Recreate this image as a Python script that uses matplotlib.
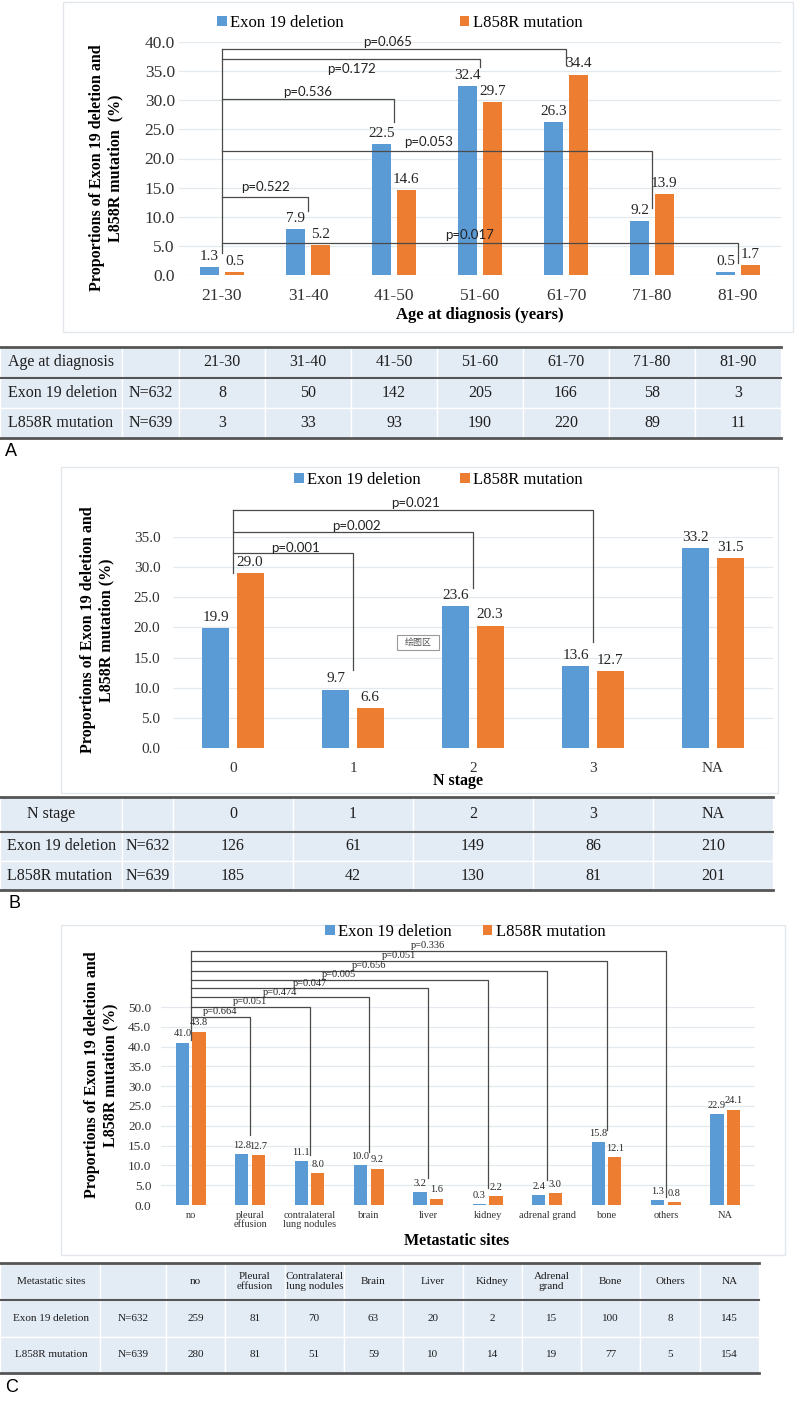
import numpy as np
import matplotlib.pyplot as plt
from matplotlib.patches import Rectangle

W, H = 800, 1403
BLUE = "#5b9bd5"
ORANGE = "#ed7d31"
LINE = "#4a4a4a"
GRID = "#e4e9ef"
CELL = "#e3ebf5"
SERIF = "Liberation Serif"

# ---- panel A: age at diagnosis ----
age_groups = ["21-30", "31-40", "41-50", "51-60", "61-70", "71-80", "81-90"]
age_exon19 = [1.3, 7.9, 22.5, 32.4, 26.3, 9.2, 0.5]
age_l858r = [0.5, 5.2, 14.6, 29.7, 34.4, 13.9, 1.7]
age_n_exon19 = [8, 50, 142, 205, 166, 58, 3]
age_n_l858r = [3, 33, 93, 190, 220, 89, 11]
age_pvals = ["0.522", "0.536", "0.172", "0.065", "0.053", "0.017"]

# ---- panel B: N stage ----
n_stages = ["0", "1", "2", "3", "NA"]
n_exon19 = [19.9, 9.7, 23.6, 13.6, 33.2]
n_l858r = [29.0, 6.6, 20.3, 12.7, 31.5]
n_count_exon19 = [126, 61, 149, 86, 210]
n_count_l858r = [185, 42, 130, 81, 201]
n_pvals = ["0.001", "0.002", "0.021"]

# ---- panel C: metastatic sites ----
sites = ["no", "pleural\neffusion", "contralateral\nlung nodules", "brain", "liver",
         "kidney", "adrenal grand", "bone", "others", "NA"]
site_headers = ["no", "Pleural\neffusion", "Contralateral\nlung nodules", "Brain", "Liver",
                "Kidney", "Adrenal\ngrand", "Bone", "Others", "NA"]
site_exon19 = [41.0, 12.8, 11.1, 10.0, 3.2, 0.3, 2.4, 15.8, 1.3, 22.9]
site_l858r = [43.8, 12.7, 8.0, 9.2, 1.6, 2.2, 3.0, 12.1, 0.8, 24.1]
site_n_exon19 = [259, 81, 70, 63, 20, 2, 15, 100, 8, 145]
site_n_l858r = [280, 81, 51, 59, 10, 14, 19, 77, 5, 154]
site_pvals = ["0.664", "0.051", "0.474", "0.047", "0.005", "0.656", "0.051", "0.336"]

# bracket layout: (target group, line height, drop end, label x, label y)
brackets_a = [(1, 13.4, 11.0, 0.51, 15.1), (2, 30.2, 26.3, 1.0, 31.4),
              (3, 37.1, 35.7, 1.51, 35.4), (4, 38.75, 36.0, 1.93, 40.0),
              (5, 21.3, 11.5, 2.4, 22.9), (6, 5.5, 2.0, 2.88, 6.9)]
brackets_b = [(1, 32.3, 12.9, 0.52, 33.2), (2, 35.8, 26.5, 1.03, 36.8),
              (3, 39.5, 17.6, 1.52, 40.7)]
c_lines = [47.6, 50.0, 52.4, 54.7, 56.8, 59.2, 61.7, 64.2]
c_drops = [17.7, 12.6, 13.4, 6.8, 4.3, 6.3, 19.0, 2.0]
brackets_c = [(k + 1, c_lines[k], c_drops[k], 0.5 * (k + 1), c_lines[k] + 1.3) for k in range(8)]

fig = plt.figure(figsize=(W / 100, H / 100), dpi=100)


def rect(x0, y0, x1, y1):
    return [x0 / W, 1 - y1 / H, (x1 - x0) / W, (y1 - y0) / H]


over = fig.add_axes([0, 0, 1, 1])
over.set_xlim(0, W)
over.set_ylim(H, 0)
over.axis("off")

# light frames round the charts
for x0, y0, x1, y1 in [(63, 2, 793, 332), (61, 467, 778, 793), (61, 925, 785, 1255)]:
    over.add_patch(Rectangle((x0, y0), x1 - x0, y1 - y0, fill=False, ec="#e3e7eb", lw=1))


def bar_panel(ax, cats, e19, l858, ymax, step, tick_fs, val_fs, xpad, ypad, width, off):
    x = np.arange(len(cats))
    ax.bar(x - off, e19, width, color=BLUE, label="Exon 19 deletion")
    ax.bar(x + off, l858, width, color=ORANGE, label="L858R mutation")
    for xs, vals in [(x - off, e19), (x + off, l858)]:
        for xi, v in zip(xs, vals):
            ax.annotate(f"{v:.1f}", (xi, v), xytext=(0, 3), textcoords="offset points",
                        ha="center", va="bottom", fontsize=val_fs, family=SERIF,
                        color="#262626", annotation_clip=False)
    ax.set_xlim(-0.5, len(cats) - 0.5)
    ax.set_ylim(0, ymax)
    ticks = np.arange(0, ymax + 0.01, step)
    ax.set_yticks(ticks)
    ax.set_yticklabels([f"{t:.1f}" for t in ticks], family=SERIF, fontsize=tick_fs, color="#333333")
    ax.set_xticks(x)
    ax.set_xticklabels(cats, family=SERIF, fontsize=tick_fs, color="#333333")
    for s in ax.spines.values():
        s.set_visible(False)
    ax.tick_params(length=0)
    ax.tick_params(axis="x", pad=xpad)
    ax.tick_params(axis="y", pad=ypad)
    ax.grid(axis="y", color=GRID, lw=0.9)
    ax.set_axisbelow(True)
    ax.set_facecolor("none")


def draw_brackets(ax, specs, pvals, left_end, fs, family):
    top = max(s[1] for s in specs)
    ax.plot([0, 0], [left_end, top], color=LINE, lw=0.9, clip_on=False)
    for (t, yl, yd, lx, ly), p in zip(specs, pvals):
        ax.plot([0, t, t], [yl, yl, yd], color=LINE, lw=0.9, clip_on=False)
        ax.text(lx, ly, "p=" + p, ha="center", va="center", fontsize=fs,
                family=family, color="#222222", clip_on=False)


def legend(ax, x_px, y_px, fs, colsp):
    ax.legend(loc="center left", bbox_to_anchor=(x_px / W, 1 - y_px / H),
              bbox_transform=fig.transFigure, ncol=2, frameon=False, borderpad=0,
              handlelength=0.55, handleheight=0.55, handletextpad=0.2,
              columnspacing=colsp, prop={"family": SERIF, "size": fs})


def draw_table(top, mid, bottom, bounds, header, rows, fs, head_x, head_ha, row_x, row_ha):
    rows_y = np.linspace(mid, bottom, len(rows) + 1)
    bands = [(top, mid)] + [(rows_y[i], rows_y[i + 1]) for i in range(len(rows))]
    for y0, y1 in bands:
        for i in range(len(bounds) - 1):
            over.add_patch(Rectangle((bounds[i], y0), bounds[i + 1] - bounds[i], y1 - y0,
                                     fc=CELL, ec="white", lw=1.0))
    right = bounds[-1]
    over.plot([0, right], [top, top], color="#555555", lw=2.0)
    over.plot([0, right], [mid, mid], color="#555555", lw=1.5)
    over.plot([0, right], [bottom, bottom], color="#555555", lw=2.0)
    centers = [(bounds[i] + bounds[i + 1]) / 2 for i in range(len(bounds) - 1)]
    for r, ((y0, y1), cells) in enumerate(zip(bands, [header] + rows)):
        yc = (y0 + y1) / 2
        for i, txt in enumerate(cells):
            if i == 0:
                x, ha = (head_x, head_ha) if r == 0 else (row_x, row_ha)
            else:
                x, ha = centers[i], "center"
            over.text(x, yc, txt, ha=ha, va="center", fontsize=fs,
                      family=SERIF, color="#1e1e1e", linespacing=1.1)


# ================= Panel A =================
axA = fig.add_axes(rect(179, 42, 781, 275))
bar_panel(axA, age_groups, age_exon19, age_l858r, 40, 5, 12.5, 11, 9, 3, 0.225, 0.145)
draw_brackets(axA, brackets_a, age_pvals, 3.7, 9.5, "Lato")
legend(axA, 209, 23, 12, 7.0)
fig.text(106 / W, 1 - 168 / H, "Proportions of Exon 19 deletion and\nL858R mutation  (%)",
         rotation=90, ha="center", va="center", fontsize=11.5, fontweight="bold",
         family=SERIF, linespacing=1.15)
fig.text(480 / W, 1 - 315 / H, "Age at diagnosis (years)", ha="center", va="center",
         fontsize=12, fontweight="bold", family=SERIF)

boundsA = [0, 122, 179] + [179 + 86.0 * (i + 1) for i in range(len(age_groups))]
draw_table(347, 378, 438, boundsA, ["Age at diagnosis", ""] + age_groups,
           [["Exon 19 deletion", "N=632"] + [str(v) for v in age_n_exon19],
            ["L858R mutation", "N=639"] + [str(v) for v in age_n_l858r]],
           11.5, 8, "left", 8, "left")
over.text(5, 452, "A", fontsize=13, family="Liberation Sans", va="center", ha="left")

# ================= Panel B =================
axB = fig.add_axes(rect(173, 537, 773, 748))
bar_panel(axB, n_stages, n_exon19, n_l858r, 35, 5, 11, 11, 10, 9, 0.225, 0.142)
draw_brackets(axB, brackets_b, n_pvals, 29.0, 9.5, "Lato")
legend(axB, 286, 480, 12, 2.4)
fig.text(97 / W, 1 - 630 / H, "Proportions of Exon 19 deletion and\nL858R mutation (%)",
         rotation=90, ha="center", va="center", fontsize=11.5, fontweight="bold",
         family=SERIF, linespacing=1.15)
fig.text(458 / W, 1 - 781 / H, "N stage", ha="center", va="center",
         fontsize=11.5, fontweight="bold", family=SERIF)
over.add_patch(Rectangle((397, 635), 42, 15, fc="white", ec="#9a9a9a", lw=0.8))
over.text(418, 642.5, "绘图区", ha="center", va="center", fontsize=6.5,
          family=["Noto Sans CJK SC", "DejaVu Sans"], color="#555555")

boundsB = [0, 122, 173] + [173 + 120.0 * (i + 1) for i in range(len(n_stages))]
draw_table(797, 832, 890, boundsB, ["N stage", ""] + n_stages,
           [["Exon 19 deletion", "N=632"] + [str(v) for v in n_count_exon19],
            ["L858R mutation", "N=639"] + [str(v) for v in n_count_l858r]],
           11.5, 51, "center", 7, "left")
over.text(8, 903, "B", fontsize=13, family="Liberation Sans", va="center", ha="left")

# ================= Panel C =================
axC = fig.add_axes(rect(161, 1007, 755, 1205))
bar_panel(axC, sites, site_exon19, site_l858r, 50, 5, 9.5, 7.5, 6, 7, 0.22, 0.14)
for lab in axC.get_xticklabels():
    lab.set_fontsize(7.5)
    lab.set_linespacing(1.0)
axC.tick_params(axis="x", pad=4)
draw_brackets(axC, brackets_c, site_pvals, 41.7, 7.5, SERIF)
legend(axC, 317, 932, 12, 1.9)
fig.text(101 / W, 1 - 1075 / H, "Proportions of Exon 19 deletion and\nL858R mutation (%)",
         rotation=90, ha="center", va="center", fontsize=11.5, fontweight="bold",
         family=SERIF, linespacing=1.15)
fig.text(457 / W, 1 - 1241 / H, "Metastatic sites", ha="center", va="center",
         fontsize=11.5, fontweight="bold", family=SERIF)

boundsC = [0, 100, 166] + [166 + 59.3 * (i + 1) for i in range(len(sites))]
draw_table(1263, 1300, 1373, boundsC, ["Metastatic sites", ""] + site_headers,
           [["Exon 19 deletion", "N=632"] + [str(v) for v in site_n_exon19],
            ["L858R mutation", "N=639"] + [str(v) for v in site_n_l858r]],
           8, 51, "center", 51, "center")
over.text(5, 1388, "C", fontsize=13, family="Liberation Sans", va="center", ha="left")

fig.savefig("out.png", dpi=100)
